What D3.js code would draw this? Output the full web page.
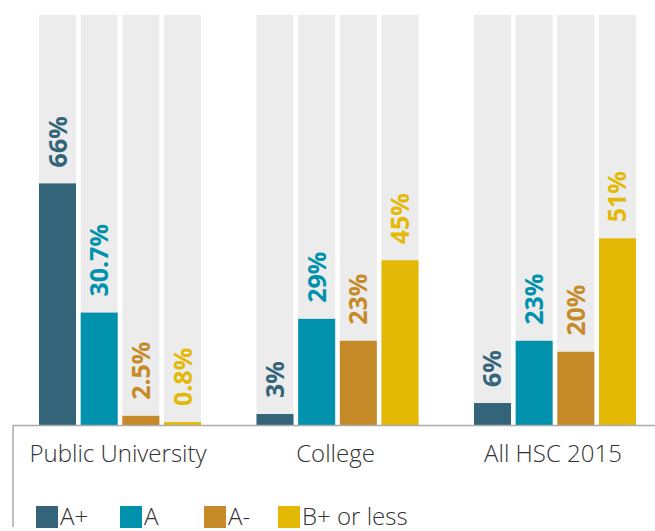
<!DOCTYPE html>
<html><head><meta charset="utf-8">
<script src="https://cdn.jsdelivr.net/npm/d3@7"></script>
<style>body{margin:0;background:#fff}svg{display:block}</style>
</head><body>
<script>
const groups = ["Public University", "College", "All HSC 2015"];
const series = ["A+", "A", "A-", "B+ or less"];
const labelText = [["66%","30.7%","2.5%","0.8%"],["3%","29%","23%","45%"],["6%","23%","20%","51%"]];
const values = [[66, 30.7, 2.5, 0.8],[3, 29, 23, 45],[6, 23, 20, 51]];
const colors = ["#336479", "#0091ac", "#c68a28", "#e3b906"];
const maxBg = 112;

const W = 655, H = 531;
const svg = d3.select("body").append("svg").attr("width", W).attr("height", H);
const x0 = d3.scaleBand().domain(groups).range([39, 636]).paddingInner(0.255).paddingOuter(0);
const x1 = d3.scaleBand().domain(series).range([0, x0.bandwidth()]).paddingInner(0.112).paddingOuter(0);
const y = d3.scaleLinear().domain([0, maxBg]).range([425, 15]);

const font = "'Source Sans Pro','Open Sans',sans-serif";
const g = svg.selectAll("g.grp").data(groups).join("g").attr("class","grp")
  .attr("transform", d => `translate(${x0(d)},0)`);

g.each(function(grp, gi){
  const sel = d3.select(this);
  series.forEach((s, si) => {
    const v = values[gi][si];
    sel.append("rect").attr("x", x1(s)).attr("width", x1.bandwidth())
      .attr("y", y(maxBg)).attr("height", y(0) - y(maxBg)).attr("fill", "#ececec");
    sel.append("rect").attr("x", x1(s)).attr("width", x1.bandwidth())
      .attr("y", y(v)).attr("height", y(0) - y(v)).attr("fill", colors[si]);
    const cx = x1(s) + x1.bandwidth()/2;
    const ty = y(v) - 16;
    sel.append("text").attr("transform", `translate(${cx + 9},${ty}) rotate(-90)`)
      .attr("text-anchor", "start").attr("font-family", font).attr("font-weight", "bold")
      .attr("font-size", 25).attr("fill", colors[si]).text(labelText[gi][si]);
  });
  sel.append("text").attr("x", x0.bandwidth()/2 - 2).attr("y", 462)
    .attr("text-anchor", "middle").attr("font-family", font).attr("font-weight", 300)
    .attr("font-size", 24).attr("fill", "#333").text(grp);
});

// axis lines
svg.append("line").attr("x1", 13).attr("x2", W).attr("y1", 425.5).attr("y2", 425.5)
  .attr("stroke", "#aaa").attr("stroke-width", 1.5);
svg.append("line").attr("x1", 13).attr("x2", 13).attr("y1", 425).attr("y2", 527)
  .attr("stroke", "#aaa").attr("stroke-width", 1.5);

// legend
const legX = [36, 120, 204, 278];
series.forEach((s, i) => {
  svg.append("rect").attr("x", legX[i]).attr("y", 506).attr("width", 22).attr("height", 22).attr("fill", colors[i]);
  svg.append("text").attr("x", legX[i] + 24).attr("y", 525).attr("font-family", font).attr("font-weight", 300)
    .attr("font-size", 24).attr("fill", "#333").text(s);
});
</script>
</body></html>
